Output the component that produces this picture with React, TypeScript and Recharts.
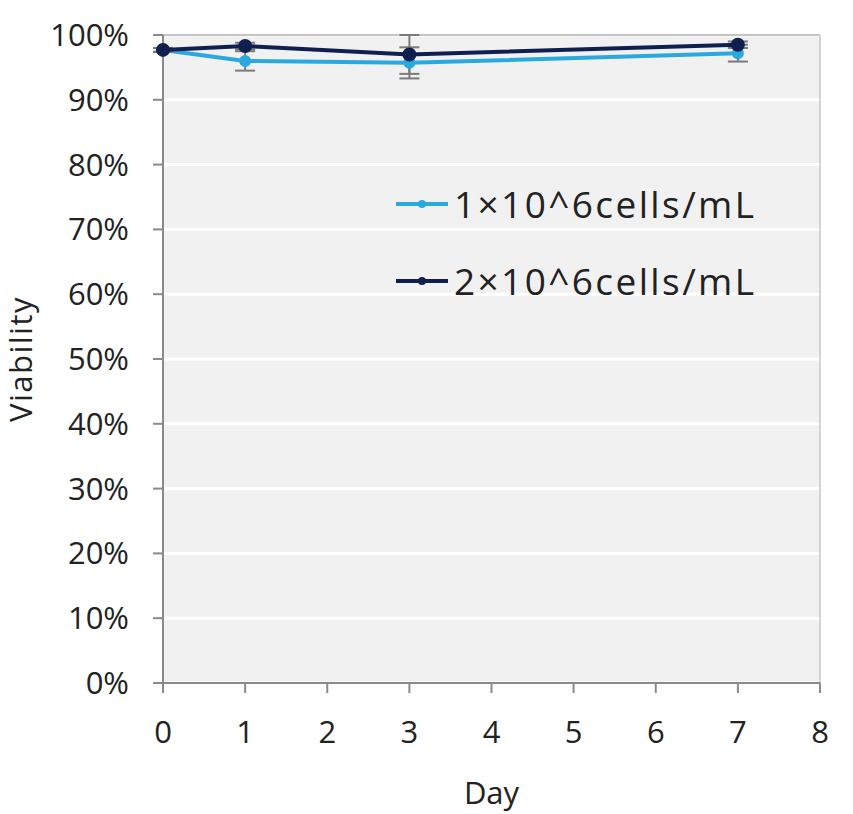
import { LineChart, Line, XAxis, YAxis, CartesianGrid, ErrorBar, ReferenceLine } from 'recharts';

const days = [0, 1, 3, 7];
const lowDensity = [97.7, 96.0, 95.7, 97.2];
const lowDensityErr = [0.3, 1.5, 2.4, 1.3];
const highDensity = [97.7, 98.3, 97.0, 98.5];
const highDensityErr = [0.3, 0.5, 3.0, 0.5];
const xTicks = [0, 1, 2, 3, 4, 5, 6, 7, 8];
const yTicks = [0, 10, 20, 30, 40, 50, 60, 70, 80, 90, 100];

const seriesNames = ['1×10^6cells/mL', '2×10^6cells/mL'];
const LIGHT = '#2aa9e0';
const DARK = '#0f1f4f';
const FONT = '"Open Sans", "Noto Sans", sans-serif';
const TEXT = '#222';

const data = days.map((d, i) => ({
  day: d,
  low: lowDensity[i],
  lowErr: lowDensityErr[i],
  high: highDensity[i],
  highErr: highDensityErr[i],
}));

// legend sits inside the plot area, drawn as plain html over the chart
function LegendBox() {
  const items = [
    { name: seriesNames[0], color: LIGHT },
    { name: seriesNames[1], color: DARK },
  ];
  return (
    <div style={{ position: 'absolute', left: 396, top: 165 }}>
      {items.map((it) => (
        <div key={it.name} style={{ display: 'flex', alignItems: 'center', height: 77 }}>
          <svg width={54} height={14}>
            <line x1={0} y1={7} x2={52} y2={7} stroke={it.color} strokeWidth={4} />
            <circle cx={26} cy={7} r={4} fill={it.color} />
          </svg>
          <span style={{ fontFamily: FONT, fontSize: 37, letterSpacing: 2.4, color: TEXT, marginLeft: 4 }}>
            {it.name}
          </span>
        </div>
      ))}
    </div>
  );
}

export default function App() {
  return (
    <div style={{ position: 'absolute', left: 0, top: 0, width: 853, height: 814, background: '#fff' }}>
      <LineChart width={853} height={814} data={data} margin={{ top: 35, right: 33, left: 0, bottom: 0 }}>
        <CartesianGrid vertical={false} stroke="#ffffff" strokeWidth={3} fill="#f1f1f1" />
        <ReferenceLine y={100} stroke="#c4c4c4" strokeWidth={2} />
        <ReferenceLine x={8} stroke="#d4d4d4" strokeWidth={2} />
        <XAxis
          dataKey="day"
          type="number"
          domain={[0, 8]}
          ticks={xTicks}
          interval={0}
          height={131}
          tickSize={10}
          tickMargin={28}
          stroke="#8a8a8a"
          strokeWidth={2}
          tick={{ fill: TEXT, fontSize: 31, fontFamily: FONT }}
          label={{ value: 'Day', position: 'insideBottom', offset: 10, fill: TEXT, fontSize: 31, fontFamily: FONT }}
        />
        <YAxis
          type="number"
          domain={[0, 100]}
          ticks={yTicks}
          interval={0}
          width={163}
          tickSize={10}
          tickMargin={24}
          stroke="#8a8a8a"
          strokeWidth={2}
          tickFormatter={(v: number) => `${v}%`}
          tick={{ fill: TEXT, fontSize: 31, fontFamily: FONT }}
          label={{
            value: 'Viability',
            angle: -90,
            position: 'insideLeft',
            offset: 21,
            textAnchor: 'middle',
            fill: TEXT,
            fontSize: 31,
            letterSpacing: 1.5,
            fontFamily: FONT,
          }}
        />
        <Line
          dataKey="low"
          name={seriesNames[0]}
          stroke={LIGHT}
          strokeWidth={4}
          dot={{ r: 4, fill: LIGHT, stroke: LIGHT }}
          isAnimationActive={false}
        >
          <ErrorBar dataKey="lowErr" direction="y" stroke="#7a7a7a" strokeWidth={2} width={10} />
        </Line>
        <Line
          dataKey="high"
          name={seriesNames[1]}
          stroke={DARK}
          strokeWidth={4}
          dot={{ r: 5, fill: DARK, stroke: DARK }}
          isAnimationActive={false}
        >
          <ErrorBar dataKey="highErr" direction="y" stroke="#7a7a7a" strokeWidth={2} width={10} />
        </Line>
      </LineChart>
      <LegendBox />
    </div>
  );
}
